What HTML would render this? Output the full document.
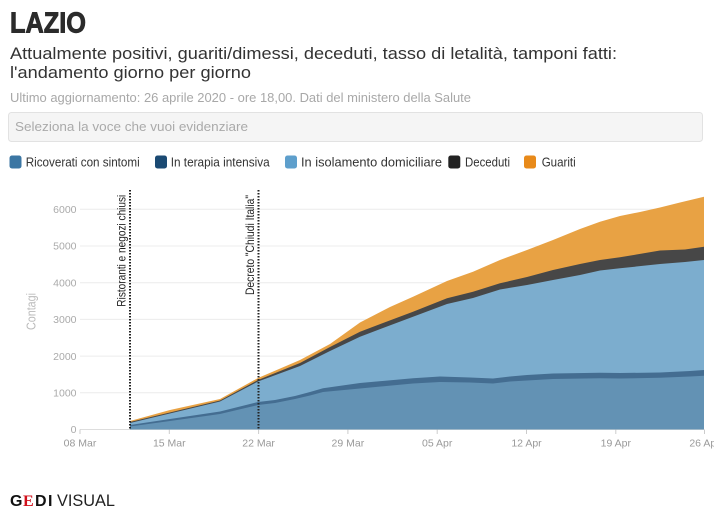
<!DOCTYPE html>
<html>
<head>
<meta charset="utf-8">
<style>
html,body{margin:0;padding:0;background:#fff;}
svg{display:block;}
text{font-family:"Liberation Sans",Arial,sans-serif;}
</style>
</head>
<body>
<svg width="720" height="523" viewBox="0 0 720 523" xmlns="http://www.w3.org/2000/svg">
  <defs>
    <clipPath id="xclip"><rect x="0" y="430" width="714" height="30"/></clipPath>
  </defs>
  <rect x="0" y="0" width="720" height="523" fill="#fff"/>

  <!-- Header -->
  <text x="10" y="32.7" font-size="29" font-weight="bold" fill="#2b2b2b" stroke="#2b2b2b" stroke-width="0.9" textLength="76" lengthAdjust="spacingAndGlyphs">LAZIO</text>
  <text x="10" y="59" font-size="16.5" fill="#333" textLength="607" lengthAdjust="spacingAndGlyphs">Attualmente positivi, guariti/dimessi, deceduti, tasso di letalità, tamponi fatti:</text>
  <text x="10" y="78" font-size="16.5" fill="#333" textLength="241" lengthAdjust="spacingAndGlyphs">l'andamento giorno per giorno</text>
  <text x="10" y="102" font-size="12.5" fill="#a8a8a8" textLength="461" lengthAdjust="spacingAndGlyphs">Ultimo aggiornamento: 26 aprile 2020 - ore 18,00. Dati del ministero della Salute</text>

  <!-- Select box -->
  <rect x="8.5" y="112.5" width="694" height="29" rx="3" ry="3" fill="#f5f5f5" stroke="#e2e2e2" stroke-width="1"/>
  <text x="15" y="131" font-size="13" fill="#aaa" textLength="233" lengthAdjust="spacingAndGlyphs">Seleziona la voce che vuoi evidenziare</text>

  <!-- Legend -->
  <rect x="9.5" y="155.5" width="12" height="13" rx="2.5" fill="#3b76a3"/>
  <text x="25.7" y="166.5" font-size="12.5" fill="#333" textLength="114" lengthAdjust="spacingAndGlyphs">Ricoverati con sintomi</text>
  <rect x="155" y="155.5" width="12" height="13" rx="2.5" fill="#1b4a73"/>
  <text x="170.7" y="166.5" font-size="12.5" fill="#333" textLength="99" lengthAdjust="spacingAndGlyphs">In terapia intensiva</text>
  <rect x="285" y="155.5" width="12" height="13" rx="2.5" fill="#5e9fcc"/>
  <text x="301" y="166.5" font-size="12.5" fill="#333" textLength="141" lengthAdjust="spacingAndGlyphs">In isolamento domiciliare</text>
  <rect x="448.3" y="155.5" width="12" height="13" rx="2.5" fill="#222"/>
  <text x="465" y="166.5" font-size="12.5" fill="#333" textLength="45" lengthAdjust="spacingAndGlyphs">Deceduti</text>
  <rect x="524" y="155.5" width="12" height="13" rx="2.5" fill="#e88a1a"/>
  <text x="541.7" y="166.5" font-size="12.5" fill="#333" textLength="34" lengthAdjust="spacingAndGlyphs">Guariti</text>

  <!-- Grid -->
  <g stroke="#ececec" stroke-width="1">
    <line x1="80" y1="209.3" x2="704" y2="209.3"/>
    <line x1="80" y1="246" x2="704" y2="246"/>
    <line x1="80" y1="282.7" x2="704" y2="282.7"/>
    <line x1="80" y1="319.4" x2="704" y2="319.4"/>
    <line x1="80" y1="356.1" x2="704" y2="356.1"/>
    <line x1="80" y1="392.8" x2="704" y2="392.8"/>
  </g>
  <line x1="80" y1="429.5" x2="704" y2="429.5" stroke="#ddd" stroke-width="1"/>

  <!-- Y labels -->
  <g font-size="10.5" fill="#aaa" text-anchor="end">
    <text x="76.5" y="213">6000</text>
    <text x="76.5" y="249.7">5000</text>
    <text x="76.5" y="286.4">4000</text>
    <text x="76.5" y="323.1">3000</text>
    <text x="76.5" y="359.8">2000</text>
    <text x="76.5" y="396.5">1000</text>
    <text x="76.5" y="433.2">0</text>
  </g>
  <text transform="translate(35.5,311.5) rotate(-90)" text-anchor="middle" font-size="13" fill="#bbb" textLength="37" lengthAdjust="spacingAndGlyphs">Contagi</text>

  <!-- Areas (cumulative, painter's order) -->
  <polygon fill="#e8a244" points="130,421 170,410 220,399 258,378 300,360 330,344 360,322.5 390,307 413,296.7 447,281 473,271.7 500,260 527,250 553,240 580,229 600,221.7 620,216 640,212 660,207.5 680,202.5 704,196.7 704,429.5 130,429.5"/>
  <polygon fill="#474747" points="130,422 220,400.5 258,380 300,363 330,347 360,331.7 413,311.7 447,298.3 473,291.7 500,283.3 527,277 553,270 580,264 600,260 620,257.3 660,250.5 685,249.5 704,246.7 704,429.5 130,429.5"/>
  <polygon fill="#7cadce" points="130,423 220,401.5 258,381.5 300,366 330,351 360,336.7 413,316.7 447,304 473,298 500,289.5 527,285 553,280 580,275 600,270.5 620,268.3 660,264 685,262 704,260 704,429.5 130,429.5"/>
  <polygon fill="#446d91" points="130,425 170,419 220,411.5 258,402 275,400 295,396 310,392 323,388.3 360,383 413,378.3 440,376.5 470,377.5 493,378.5 510,376.5 527,375 553,373.5 600,372.7 620,373 660,372.5 690,371 704,370 704,429.5 130,429.5"/>
  <polygon fill="#6392b4" points="130,426.5 170,421 220,414 258,405 275,403 295,399 310,395.5 323,392 360,388.5 413,383.5 440,382 470,382.5 493,383.5 510,381.5 527,380.5 553,379 600,378.3 620,378.5 660,377.8 690,376.5 704,375.7 704,429.5 130,429.5"/>

  <!-- X ticks -->
  <g stroke="#ccc" stroke-width="1">
    <line x1="80" y1="429.5" x2="80" y2="434"/>
    <line x1="169.3" y1="429.5" x2="169.3" y2="434"/>
    <line x1="258.6" y1="429.5" x2="258.6" y2="434"/>
    <line x1="347.9" y1="429.5" x2="347.9" y2="434"/>
    <line x1="437.2" y1="429.5" x2="437.2" y2="434"/>
    <line x1="526.5" y1="429.5" x2="526.5" y2="434"/>
    <line x1="615.8" y1="429.5" x2="615.8" y2="434"/>
    <line x1="704.5" y1="429.5" x2="704.5" y2="434"/>
  </g>
  <!-- X labels -->
  <g font-size="10.5" fill="#999" text-anchor="middle" clip-path="url(#xclip)">
    <text x="80" y="446.5">08 Mar</text>
    <text x="169.3" y="446.5">15 Mar</text>
    <text x="258.6" y="446.5">22 Mar</text>
    <text x="347.9" y="446.5">29 Mar</text>
    <text x="437.2" y="446.5">05 Apr</text>
    <text x="526.5" y="446.5">12 Apr</text>
    <text x="615.8" y="446.5">19 Apr</text>
    <text x="704.5" y="446.5">26 Apr</text>
  </g>

  <!-- Event lines -->
  <line x1="130" y1="190" x2="130" y2="430" stroke="#222" stroke-width="2" stroke-dasharray="1.5 1.5"/>
  <line x1="258.5" y1="190" x2="258.5" y2="430" stroke="#222" stroke-width="2" stroke-dasharray="1.5 1.5"/>
  <text transform="translate(125.5,306.7) rotate(-90)" font-size="12" fill="#222" textLength="112" lengthAdjust="spacingAndGlyphs">Ristoranti e negozi chiusi</text>
  <text transform="translate(254,295) rotate(-90)" font-size="12" fill="#222" textLength="100" lengthAdjust="spacingAndGlyphs">Decreto "Chiudi Italia"</text>

  <!-- Footer logo -->
  <text x="10" y="506" font-size="16" font-weight="bold" fill="#111">G</text>
  <text x="23" y="506" font-size="16" font-weight="bold" fill="#d0101b" style="font-family:'Liberation Serif',serif">E</text>
  <text x="35" y="506" font-size="16" font-weight="bold" fill="#111">D</text>
  <text x="48" y="506" font-size="16" font-weight="bold" fill="#111">I</text>
  <text x="57" y="506" font-size="16.5" fill="#222" textLength="58" lengthAdjust="spacingAndGlyphs">VISUAL</text>
</svg>
</body>
</html>
